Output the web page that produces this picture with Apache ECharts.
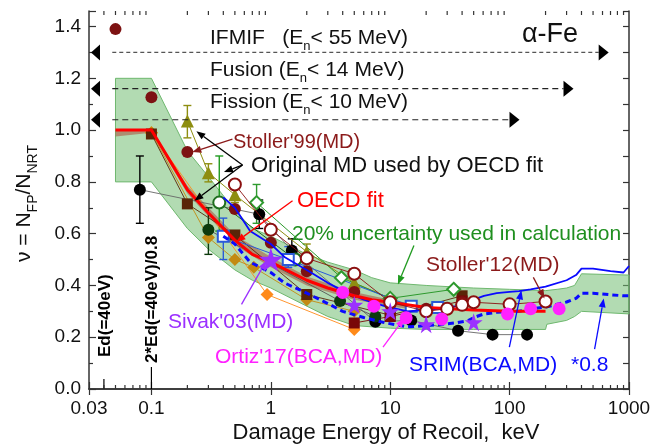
<!DOCTYPE html>
<html>
<head>
<meta charset="utf-8">
<script src="https://cdn.jsdelivr.net/npm/echarts@6/dist/echarts.min.js"></script>
<style>
html,body{margin:0;padding:0;background:#fff}
#chart{width:672px;height:445px}
</style>
</head>
<body>
<div id="chart"></div>
<script>
// ---- axis setup ----
const E_MIN = 0.03, E_MAX = 1000;
const Y_MIN = 0, Y_MAX = 1.46;
const FONT = '"Liberation Sans", Arial, sans-serif';

// ---- data: [damage energy (keV), efficiency] ----
const oecdFit = [[0.05,1.0],[0.1,1.0],[0.2,0.77],[0.3,0.68],[0.5,0.575],[0.7,0.52],[1,0.49],[2,0.42],[3,0.39],[5,0.36],[7,0.345],[10,0.335],[20,0.315],[50,0.305],[100,0.30],[200,0.30]];
const oecdSpreadUpper = [[0.05,1.0],[0.1,1.0],[0.2,0.785],[0.5,0.595],[1,0.51],[2,0.435],[5,0.375],[10,0.345],[20,0.32]];
const oecdSpreadLower = [[0.05,0.975],[0.1,0.99],[0.2,0.755],[0.5,0.555],[1,0.47],[2,0.40],[5,0.345],[10,0.32],[20,0.30]];
const bandUpper = [[0.05,1.2],[0.1,1.2],[0.2,0.92],[0.3,0.82],[0.5,0.69],[0.7,0.62],[1,0.59],[2,0.52],[3,0.49],[5,0.46],[7,0.43],[10,0.41],[20,0.40],[50,0.39],[100,0.385],[200,0.38],[250,0.385],[300,0.39],[350,0.40],[400,0.445],[1000,0.44]];
const bandLower = [[0.05,0.8],[0.1,0.8],[0.2,0.62],[0.3,0.54],[0.5,0.46],[0.7,0.42],[1,0.39],[2,0.32],[3,0.28],[5,0.245],[10,0.235],[20,0.23],[50,0.23],[100,0.23],[200,0.23],[205,0.25],[300,0.265],[350,0.28],[400,0.30],[1000,0.29]];
const srim = [[0.4,0.74],[0.5,0.70],[0.67,0.61],[1,0.56],[1.3,0.51],[2,0.46],[3,0.41],[4,0.38],[6,0.345],[9,0.32],[14,0.30],[25,0.31],[36,0.32],[45,0.33],[50,0.345],[61,0.36],[78,0.37],[100,0.375],[120,0.378],[150,0.385],[200,0.395],[300,0.42],[360,0.44],[400,0.465],[500,0.465],[700,0.455],[900,0.45],[1000,0.475]];
const srimScaled = [[0.4,0.59],[0.5,0.56],[0.67,0.49],[1,0.45],[1.3,0.41],[2,0.37],[3,0.33],[4,0.30],[6,0.276],[9,0.256],[14,0.24],[25,0.248],[36,0.256],[45,0.264],[50,0.276],[61,0.29],[78,0.296],[100,0.30],[120,0.30],[150,0.31],[200,0.316],[300,0.336],[360,0.35],[400,0.37],[500,0.37],[700,0.364],[900,0.36],[1000,0.36]];

const stoller99 = [[0.05,1.39],[0.1,1.127],[0.2,0.915],[0.5,0.695],[1,0.565],[2,0.455],[5,0.375],[10,0.325],[20,0.31],[40,0.335]];
const stoller12 = [[0.5,0.79],[1,0.615],[2,0.505],[5,0.445],[10,0.335],[20,0.30],[30,0.31],[40,0.325],[50,0.335],[100,0.327],[200,0.338]];
const blackMD = [[0.08,0.77],[0.8,0.675],[1.5,0.535],[7.5,0.26],[15,0.265],[37,0.225],[72,0.21],[140,0.21]];
const blackErr = [[0.08,0.64,0.90],[0.8,0.62,0.73],[1.5,0.48,0.58]];
const darkGreenMD = [[0.3,0.615],[3.8,0.34],[7.5,0.28]];
const darkGreenErr = [[0.3,0.52,0.70]];
const oliveMD = [[0.2,1.035],[0.3,0.835],[0.5,0.75],[2,0.53],[5,0.41],[10,0.35]];
const oliveErr = [[0.2,0.97,1.095],[0.3,0.80,0.87],[0.5,0.72,0.80],[2,0.50,0.56]];
const greenDiamonds = [[0.76,0.72],[3.9,0.43],[10,0.35],[34,0.385]];
const greenDiamondErr = [[0.76,0.64,0.79]];
const greenOpen = [[0.37,0.72],[1.6,0.50]];
const greenOpenErr = [[0.37,0.61,0.90]];
const brownSquares = [[0.1,0.985],[0.2,0.715],[0.5,0.595],[2,0.365],[10,0.285],[40,0.36]];
const redSquares = [[5,0.255],[10,0.28],[40,0.34]];
const goldDiamonds = [[0.1,0.99],[0.3,0.585],[0.5,0.50],[0.72,0.47],[2,0.345],[5,0.30]];
const orangeDiamonds = [[0.1,0.99],[0.93,0.365],[5,0.23]];
const blueSquares = [[0.4,0.59],[1.4,0.50],[15,0.32],[25,0.315]];
const blueSquareErr = [[0.4,0.50,0.66],[1.4,0.47,0.55]];
const sivak03 = [[1,0.50],[5,0.325],[10,0.30],[20,0.25],[50,0.258]];
const ortiz17 = [[4,0.373],[7.3,0.32],[13.6,0.275],[27,0.27],[96,0.29],[150,0.31],[260,0.31]];

// neutron spectrum ranges: [upper recoil energy keV, level]
const ranges = [[676,1.30],[343,1.16],[121,1.04]];

// callout arrows: [fromE, fromV, toE, toV]
const arrowsDarkRed = [[0.477,0.965,0.22,0.915],[158,0.431,196,0.35]];
const arrowsBlack = [[0.579,0.865,0.238,0.996],[0.579,0.865,0.405,0.838],[0.579,0.865,0.229,0.727]];
const arrowsRed = [[1.52,0.727,0.515,0.569]];
const arrowsGreen = [[15.8,0.554,11.6,0.404]];
const arrowsPurple = [[0.568,0.327,0.92,0.496]];
const arrowsMagenta = [[8.7,0.162,13.1,0.273]];
const arrowsBlue = [[99.5,0.162,125.6,0.381],[515,0.154,614,0.35]];

// log-axis minor ticks (2..9 in each decade)
const minorTicks = [];
for (let d = 0.01; d < E_MAX; d *= 10) {
  for (let k = 2; k <= 9; k++) {
    const v = +(k * d).toPrecision(3);
    if (v > E_MIN && v < E_MAX) minorTicks.push([v, 0]);
  }
}

// ---- helpers ----
const mctx = document.createElement('canvas').getContext('2d');
function textWidth(s, font) { mctx.font = font; return mctx.measureText(s).width; }

function textRun(x0, y0, parts, color, size, subSize, rotated) {
  const els = [];
  let d = 0;
  parts.forEach(([s, sub]) => {
    const fs = sub ? subSize : size;
    const font = fs + 'px ' + FONT;
    const off = sub ? size * 0.42 : 0;
    const style = {text: s, font: font, fill: color, align: 'left', verticalAlign: 'middle', textAlign: 'left', textVerticalAlign: 'middle'};
    if (rotated) els.push({type: 'text', x: x0 + off, y: y0 - d, rotation: Math.PI / 2, style: style, z: 100});
    else els.push({type: 'text', x: x0 + d, y: y0 + off, style: style, z: 100});
    d += textWidth(s, font);
  });
  return els;
}

function arrowItem(params, api) {
  const a = api.coord([api.value(0), api.value(1)]);
  const b = api.coord([api.value(2), api.value(3)]);
  const c = api.visual('color');
  const ang = Math.atan2(b[1] - a[1], b[0] - a[0]);
  const L = 9, W = 3.5;
  const bx = b[0] - L * Math.cos(ang), by = b[1] - L * Math.sin(ang);
  const px = -Math.sin(ang) * W, py = Math.cos(ang) * W;
  return {type: 'group', children: [
    {type: 'line', shape: {x1: a[0], y1: a[1], x2: bx, y2: by}, style: {stroke: c, lineWidth: 1.3}},
    {type: 'polygon', shape: {points: [[b[0], b[1]], [bx + px, by + py], [bx - px, by - py]]}, style: {fill: c}}
  ]};
}
function arrowSeries(data, color) {
  return {type: 'custom', renderItem: arrowItem, data: data, itemStyle: {color: color}, z: 20, silent: true,
    encode: {x: [0, 2], y: [1, 3]}};
}

function errItem(params, api) {
  const x = api.value(0);
  const lo = api.coord([x, api.value(1)]), hi = api.coord([x, api.value(2)]);
  const c = api.visual('color');
  const st = {stroke: c, lineWidth: 1.4};
  return {type: 'group', children: [
    {type: 'line', shape: {x1: lo[0], y1: lo[1], x2: hi[0], y2: hi[1]}, style: st},
    {type: 'line', shape: {x1: lo[0] - 4, y1: lo[1], x2: lo[0] + 4, y2: lo[1]}, style: st},
    {type: 'line', shape: {x1: hi[0] - 4, y1: hi[1], x2: hi[0] + 4, y2: hi[1]}, style: st}
  ]};
}
function errSeries(data, color) {
  return {type: 'custom', renderItem: errItem, data: data, itemStyle: {color: color}, z: 6, silent: true,
    encode: {x: 0, y: [1, 2]}};
}

function polygonSeries(upper, lower, fill, stroke, z) {
  const pts = upper.concat(lower.slice().reverse());
  return {type: 'custom', data: pts, z: z, silent: true, encode: {x: 0, y: 1},
    renderItem: (params, api) => {
      if (params.dataIndex !== 0) return null;
      return {type: 'polygon', shape: {points: pts.map(p => api.coord(p))},
        style: {fill: fill, stroke: stroke, lineWidth: stroke ? 1 : 0}};
    }};
}

function markSeries(data, symbol, size, color, opts) {
  opts = opts || {};
  return {
    type: 'line', data: data, symbol: symbol, symbolSize: size, showSymbol: true, z: opts.z || 7,
    lineStyle: {color: opts.lineColor || color, width: opts.lineWidth == null ? 1 : opts.lineWidth, opacity: opts.noLine ? 0 : 1},
    itemStyle: opts.open ? {color: '#fff', borderColor: color, borderWidth: 2} : {color: color},
    silent: true, animation: false
  };
}

const STAR = 'path://M50,0 L61,35 L98,35 L68,57 L79,91 L50,70 L21,91 L32,57 L2,35 L39,35 Z';

// ---- chart ----
const chart = echarts.init(document.getElementById('chart'), null, {renderer: 'canvas'});

const axisLineStyle = {color: '#333', width: 1.5};

const option = {
  animation: false,
  backgroundColor: '#fff',
  grid: {left: 89, right: 43, top: 11, bottom: 56, containLabel: false},
  xAxis: [{
    type: 'log', min: E_MIN, max: E_MAX, logBase: 10,
    axisLine: {show: true, lineStyle: axisLineStyle},
    axisTick: {inside: true, length: 7, lineStyle: {color: '#333', width: 1.2}},
    axisLabel: {color: '#111', fontSize: 19, fontFamily: FONT, margin: 10,
      formatter: v => String(+(+v).toPrecision(3))},
    splitLine: {show: false}
  }, {
    type: 'log', min: E_MIN, max: E_MAX, logBase: 10, position: 'top',
    axisLine: {show: true, lineStyle: axisLineStyle},
    axisTick: {inside: true, length: 6, lineStyle: {color: '#333', width: 1.2}},
    axisLabel: {show: false}, splitLine: {show: false}
  }],
  yAxis: [{
    type: 'value', min: Y_MIN, max: Y_MAX, interval: 0.2,
    axisLine: {show: true, lineStyle: axisLineStyle},
    axisTick: {inside: true, length: 7, lineStyle: {color: '#333', width: 1.2}},
    minorTick: {show: true, splitNumber: 2, length: 4, lineStyle: {color: '#333', width: 1.2}},
    axisLabel: {color: '#111', fontSize: 19, fontFamily: FONT, margin: 8, showMaxLabel: false,
      formatter: v => v.toFixed(1)},
    splitLine: {show: false}, minorSplitLine: {show: false}
  }, {
    type: 'value', min: Y_MIN, max: Y_MAX, interval: 0.1, position: 'right',
    axisLine: {show: true, lineStyle: axisLineStyle},
    axisTick: {inside: true, length: 6, lineStyle: {color: '#333', width: 1.2}},
    axisLabel: {show: false}, splitLine: {show: false}
  }],
  series: [
    // uncertainty band and fit spread
    polygonSeries(bandUpper, bandLower, 'rgba(115,190,115,0.55)', '#6fb86f', 1),
    polygonSeries(oecdSpreadUpper, oecdSpreadLower, 'rgba(170,90,70,0.6)', null, 2),
    // minor log ticks on bottom and top edges
    {type: 'custom', data: minorTicks, z: 30, silent: true, encode: {x: 0, y: 1},
      renderItem: (params, api) => {
        const v = api.value(0);
        const b = api.coord([v, Y_MIN]), t = api.coord([v, Y_MAX]);
        const st = {stroke: '#333', lineWidth: 1.2};
        return {type: 'group', children: [
          {type: 'line', shape: {x1: b[0], y1: b[1], x2: b[0], y2: b[1] - 4}, style: st},
          {type: 'line', shape: {x1: t[0], y1: t[1], x2: t[0], y2: t[1] + 4}, style: st}
        ]};
      }},
    // spectrum ranges
    {type: 'custom', data: ranges, z: 15, silent: true, encode: {x: 0, y: 1},
      renderItem: (params, api) => {
        const y = api.value(1);
        const end = api.coord([api.value(0), y]);
        const start = api.coord([0.047, y]);
        const left = api.coord([E_MIN, y]);
        const fine = params.dataIndex === 0;
        return {type: 'group', children: [
          {type: 'line', shape: {x1: start[0], y1: start[1], x2: end[0] - 10, y2: end[1]},
            style: {stroke: fine ? '#555' : '#222', lineWidth: 1.2, lineDash: fine ? [4, 3] : [6, 4]}},
          {type: 'polygon', shape: {points: [[end[0], end[1]], [end[0] - 10, end[1] - 8], [end[0] - 10, end[1] + 8]]}, style: {fill: '#000'}},
          {type: 'polygon', shape: {points: [[left[0] + 2, left[1]], [left[0] + 11, left[1] - 8], [left[0] + 11, left[1] + 8]]}, style: {fill: '#000'}}
        ]};
      }},
    // displacement threshold markers
    {type: 'custom', data: [[0.04, 0], [0.1, 0]], z: 15, silent: true, encode: {x: 0, y: 1},
      renderItem: (params, api) => {
        const p = api.coord([api.value(0), 0]);
        const first = params.dataIndex === 0;
        const dash = first ? 10 : 22;
        const gap = first ? 32 : 26;
        return {type: 'group', children: [
          {type: 'line', shape: {x1: p[0], y1: p[1], x2: p[0], y2: p[1] - dash}, style: {stroke: '#000', lineWidth: 1.2}},
          {type: 'text', x: p[0] + 1, y: p[1] - gap, rotation: Math.PI / 2,
            style: {text: first ? 'Ed(=40eV)' : '2*Ed(=40eV)/0.8', font: 'bold 17px ' + FONT, fill: '#000',
              align: 'left', verticalAlign: 'middle', textAlign: 'left', textVerticalAlign: 'middle'}}
        ]};
      }},
    // simulation results
    markSeries(orangeDiamonds, 'diamond', 13, '#ff8a1a', {lineWidth: 0.9}),
    markSeries(goldDiamonds, 'diamond', 13, '#c38a12', {lineWidth: 0.9}),
    markSeries(brownSquares, 'rect', 11, '#5a2508', {lineWidth: 0.9}),
    markSeries(redSquares, 'rect', 11, '#7a0808', {lineWidth: 0.9}),
    markSeries(blackMD, 'circle', 12, '#000', {lineColor: '#666', lineWidth: 0.9}),
    errSeries(blackErr, '#000'),
    markSeries(darkGreenMD, 'circle', 12, '#0d3a0d', {lineColor: '#555', lineWidth: 0.9}),
    errSeries(darkGreenErr, '#0d3a0d'),
    markSeries(oliveMD, 'triangle', 13, '#8e8e10', {lineWidth: 1}),
    errSeries(oliveErr, '#8e8e10'),
    markSeries(greenDiamonds, 'diamond', 13, '#2e9a2e', {open: true, lineWidth: 1}),
    errSeries(greenDiamondErr, '#2e9a2e'),
    markSeries(greenOpen, 'circle', 12, '#1f6e1f', {open: true, lineWidth: 1}),
    errSeries(greenOpenErr, '#1f9a1f'),
    markSeries(blueSquares, 'rect', 11, '#2a5ad8', {open: true, lineWidth: 1}),
    errSeries(blueSquareErr, '#2a5ad8'),
    markSeries(stoller99, 'circle', 12, '#7d1212', {noLine: true}),
    // SRIM and scaled SRIM
    {type: 'line', data: srim, showSymbol: false, z: 8, lineStyle: {color: '#0a0aff', width: 1.8}, silent: true},
    {type: 'line', data: srimScaled, showSymbol: false, z: 8, lineStyle: {color: '#0a0aff', width: 3, type: [6, 4]}, silent: true},
    // OECD fit
    {type: 'line', data: oecdFit, showSymbol: false, z: 9, lineStyle: {color: '#ff0000', width: 3}, silent: true},
    markSeries(stoller12, 'circle', 12, '#8b1010', {open: true, lineWidth: 0.9, z: 10}),
    Object.assign(markSeries(sivak03, STAR, 18, '#9b30ff', {noLine: true, z: 10}),
      {symbolSize: (v, p) => p.dataIndex === 0 ? 24 : 18}),
    markSeries(ortiz17, 'circle', 13, '#ff22ff', {noLine: true, z: 10}),
    // callouts
    arrowSeries(arrowsDarkRed, '#8b1a1a'),
    arrowSeries(arrowsBlack, '#000'),
    arrowSeries(arrowsRed, '#ff0000'),
    arrowSeries(arrowsGreen, '#1f9a1f'),
    arrowSeries(arrowsPurple, '#9b30ff'),
    arrowSeries(arrowsMagenta, '#ff22ff'),
    arrowSeries(arrowsBlue, '#0a0aff')
  ],
  graphic: [].concat(
    textRun(210, 38, [['IFMIF   (E'], ['n', 1], ['< 55 MeV)']], '#111', 21, 13),
    textRun(210, 70, [['Fusion (E'], ['n', 1], ['< 14 MeV)']], '#111', 21, 13),
    textRun(210, 102, [['Fission (E'], ['n', 1], ['< 10 MeV)']], '#111', 21, 13),
    textRun(522, 35, [['\u03b1-Fe']], '#111', 27, 27),
    textRun(233, 142, [["Stoller'99(MD)"]], '#8b1a1a', 20, 20),
    textRun(251, 166, [['Original MD used by OECD fit']], '#111', 22, 22),
    textRun(297, 201, [['OECD fit']], '#ff0000', 22, 22),
    textRun(292, 234, [['20% uncertainty used in calculation']], '#1f8f1f', 21, 21),
    textRun(426, 265, [["Stoller'12(MD)"]], '#8b1a1a', 21, 21),
    textRun(168, 322, [["Sivak'03(MD)"]], '#9b30ff', 21, 21),
    textRun(215, 357, [["Ortiz'17(BCA,MD)"]], '#ff22ff', 21, 21),
    textRun(409, 365, [['SRIM(BCA,MD)']], '#0a0aff', 21, 21),
    textRun(571, 365, [['*0.8']], '#0a0aff', 21, 21),
    textRun(24, 262, [['\u03bd = N'], ['FP', 1], ['/N'], ['NRT', 1]], '#111', 21, 14, true),
    [{type: 'text', x: 386, y: 433, z: 100,
      style: {text: 'Damage Energy of Recoil,  keV', font: '22px ' + FONT, fill: '#111',
        align: 'center', verticalAlign: 'middle', textAlign: 'center', textVerticalAlign: 'middle'}}]
  )
};
chart.setOption(option);
</script>
</body>
</html>
